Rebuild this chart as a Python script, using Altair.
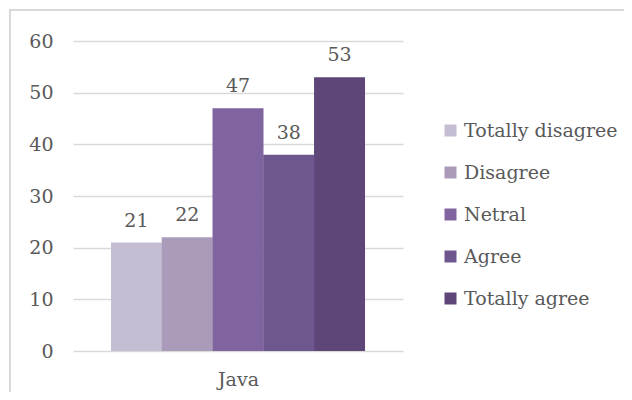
import altair as alt
import pandas as pd

categories = ["Totally disagree", "Disagree", "Netral", "Agree", "Totally agree"]
values = [21, 22, 47, 38, 53]
colors = ["#C5BED3", "#AA9BBB", "#8064A0", "#6E568E", "#5E4778"]
group = "Java"

df = pd.DataFrame({"response": categories, "count": values, "group": [group] * len(categories)})

FONT = "DejaVu Serif"
TXT = "#595959"

x = alt.X(
    "response:N",
    sort=categories,
    scale=alt.Scale(paddingInner=0, paddingOuter=0.75),
    axis=alt.Axis(labels=False, ticks=False, domain=False, title=group,
                  titleFont=FONT, titleFontSize=19, titleFontWeight="normal",
                  titleColor=TXT, titlePadding=19),
)
y = alt.Y(
    "count:Q",
    scale=alt.Scale(domain=[0, 60], nice=False),
    axis=alt.Axis(values=[0, 10, 20, 30, 40, 50, 60], title=None, ticks=False, domain=False,
                  labelFont=FONT, labelFontSize=19, labelColor=TXT, labelPadding=20,
                  gridColor="#D9D9D9", gridWidth=1.5),
)
color = alt.Color(
    "response:N",
    sort=categories,
    scale=alt.Scale(domain=categories, range=colors),
    legend=alt.Legend(title=None, orient="none", legendX=368, legendY=80,
                      symbolType="square", symbolSize=144, symbolStrokeWidth=0,
                      labelFont=FONT, labelFontSize=19, labelColor=TXT,
                      rowPadding=22, labelOffset=4),
)

bars = alt.Chart(df).mark_bar(size=51).encode(x=x, y=y, color=color)
labels = alt.Chart(df).mark_text(baseline="alphabetic", dy=-16, font=FONT, fontSize=19, color=TXT).encode(
    x=alt.X("response:N", sort=categories), y="count:Q", text="count:Q"
)
border = alt.Chart(df).mark_rect(fill=None, stroke="#D9D9D9", strokeWidth=1.5).encode(
    x=alt.value(-63), x2=alt.value(600), y=alt.value(-31), y2=alt.value(400)
)

chart = alt.layer(bars, labels, border).properties(
    width=330, height=310,
    autosize=alt.AutoSizeParams(type="none"),
    padding={"left": 65, "top": 33, "right": 221, "bottom": 41},
).configure_view(stroke=None)

chart.save("out.html", embed_options={"renderer": "svg", "actions": False})
